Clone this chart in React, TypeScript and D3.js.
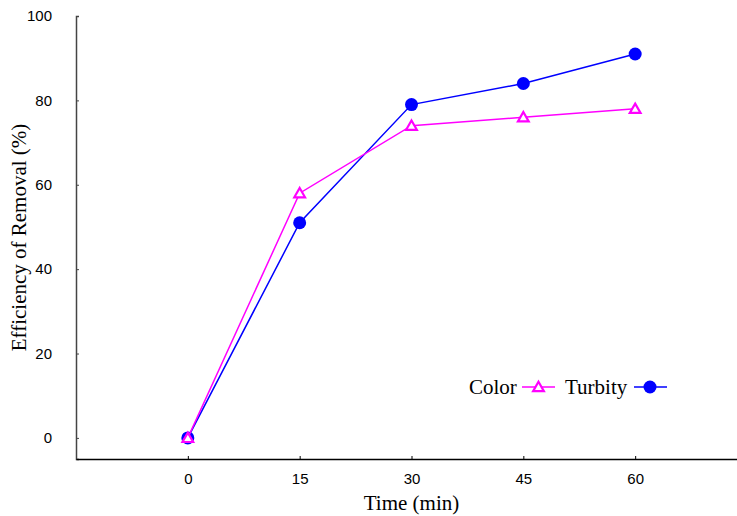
import React, { useRef, useEffect } from "react";
import * as d3 from "d3";

const times = [0, 15, 30, 45, 60];
const colorRemoval = [0, 58, 74, 76, 78];
const turbidityRemoval = [0, 51, 79, 84, 91];
const xTicks = [0, 15, 30, 45, 60];
const yTicks = [0, 20, 40, 60, 80, 100];

const App = () => {
  const svgRef = useRef<SVGSVGElement | null>(null);

  useEffect(() => {
    const width = 737;
    const height = 516;
    const svg = d3.select(svgRef.current).attr("width", width).attr("height", height);
    svg.selectAll("*").remove();

    const left = 76;
    const bottom = 459;

    const x = d3.scaleLinear().domain([-15, 75]).range([76, 747]);
    const y = d3.scaleLinear().domain([-5, 100]).range([bottom, 16]);

    // y axis
    const yAxis = svg.append("g").attr("transform", `translate(${left},0)`);
    yAxis.call(d3.axisLeft(y).tickValues(yTicks).tickSizeInner(-3).tickSizeOuter(-3).tickPadding(24));
    yAxis.select(".domain").attr("stroke", "#444").attr("stroke-width", 1.5);
    yAxis.selectAll(".tick line").attr("stroke", "#444");
    yAxis
      .selectAll("text")
      .attr("font-family", "Liberation Sans, Arial, sans-serif")
      .attr("font-size", 15)
      .attr("fill", "#000");

    // x axis
    const xAxis = svg.append("g").attr("transform", `translate(0,${bottom})`);
    xAxis.call(d3.axisBottom(x).tickValues(xTicks).tickSizeInner(-3).tickSizeOuter(0).tickPadding(14));
    xAxis.select(".domain").attr("stroke", "#000").attr("stroke-width", 1.5);
    xAxis
      .selectAll("text")
      .attr("font-family", "Liberation Sans, Arial, sans-serif")
      .attr("font-size", 15)
      .attr("fill", "#000");

    const series = [
      { name: "Color", values: colorRemoval, color: "#ff00ff", marker: "triangle" },
      { name: "Turbity", values: turbidityRemoval, color: "#0000ff", marker: "circle" },
    ];

    const line = d3
      .line<number>()
      .x((_, i) => x(times[i]))
      .y((d) => y(d));

    const tri = d3.symbol().type(d3.symbolTriangle).size(50);

    const drawMarker = (g, s, cx, cy) => {
      if (s.marker === "circle") {
        g.append("circle").attr("cx", cx).attr("cy", cy).attr("r", 6.5).attr("fill", s.color);
      } else {
        g.append("path")
          .attr("d", tri())
          .attr("transform", `translate(${cx},${cy + 1})`)
          .attr("fill", "white")
          .attr("stroke", s.color)
          .attr("stroke-width", 2.2);
      }
    };

    // turbidity drawn first so color sits on top at 0
    [series[1], series[0]].forEach((s) => {
      const g = svg.append("g");
      g.append("path")
        .attr("d", line(s.values))
        .attr("fill", "none")
        .attr("stroke", s.color)
        .attr("stroke-width", 1.5);
      s.values.forEach((v, i) => drawMarker(g, s, x(times[i]), y(v)));
    });

    // legend
    const legendY = 387;
    const legend = svg.append("g").attr("font-family", "Liberation Serif, Times New Roman, serif").attr("font-size", 21);
    legend.append("text").attr("x", 469).attr("y", legendY + 7).text("Color");
    legend
      .append("line")
      .attr("x1", 522)
      .attr("x2", 555)
      .attr("y1", legendY)
      .attr("y2", legendY)
      .attr("stroke", series[0].color)
      .attr("stroke-width", 1.5);
    drawMarker(legend, series[0], 538.5, legendY);
    legend.append("text").attr("x", 565).attr("y", legendY + 7).text("Turbity");
    legend
      .append("line")
      .attr("x1", 634)
      .attr("x2", 667)
      .attr("y1", legendY)
      .attr("y2", legendY)
      .attr("stroke", series[1].color)
      .attr("stroke-width", 1.5);
    drawMarker(legend, series[1], 650, legendY);

    // axis titles
    svg
      .append("text")
      .attr("x", x(30))
      .attr("y", 510)
      .attr("text-anchor", "middle")
      .attr("font-family", "Liberation Serif, Times New Roman, serif")
      .attr("font-size", 21)
      .text("Time (min)");

    svg
      .append("text")
      .attr("transform", `translate(26,${y(47.5)}) rotate(-90)`)
      .attr("text-anchor", "middle")
      .attr("font-family", "Liberation Serif, Times New Roman, serif")
      .attr("font-size", 21)
      .text("Efficiency of Removal (%)");
  }, []);

  return (
    <div style={{ position: "absolute", left: 0, top: 0 }}>
      <svg ref={svgRef} style={{ display: "block" }} />
    </div>
  );
};

export default App;
